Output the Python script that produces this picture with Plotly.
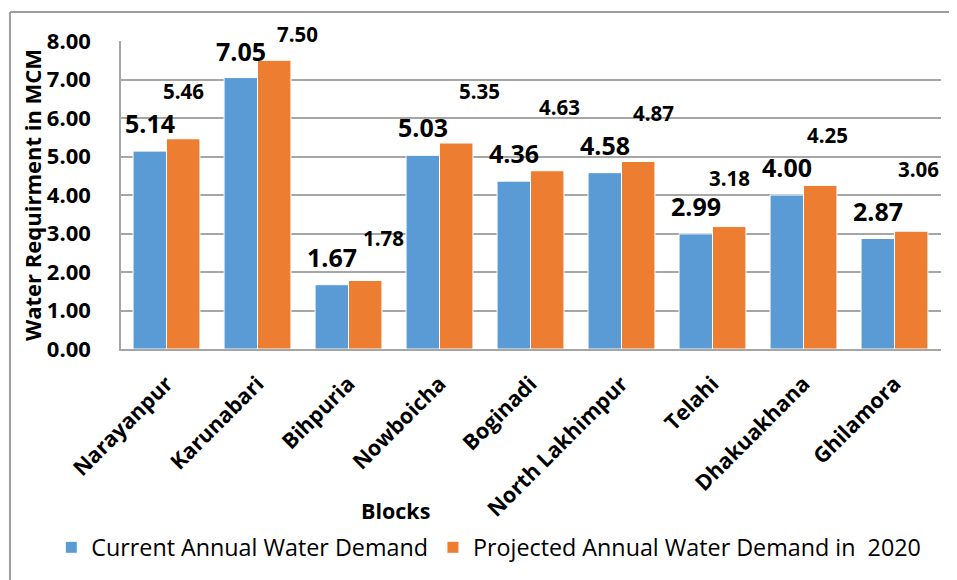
import plotly.graph_objects as go

# data
blocks = ["Narayanpur", "Karunabari", "Bihpuria", "Nowboicha", "Boginadi",
          "North Lakhimpur", "Telahi", "Dhakuakhana", "Ghilamora"]
current_demand = [5.14, 7.05, 1.67, 5.03, 4.36, 4.58, 2.99, 4.00, 2.87]
projected_demand = [5.46, 7.50, 1.78, 5.35, 4.63, 4.87, 3.18, 4.25, 3.06]

# label placement (pixel nudges) – the source chart had hand-moved labels
current_label_shift = [(-17, 28), (-17, 27), (-17, 28), (-17, 28), (-17, 28),
                       (-17, 28), (-17, 28), (-17, 28), (-17, 28)]
projected_label_shift = [(17, 48), (40, 26), (35, 42), (40, 52), (29, 64),
                         (32, 49), (17, 49), (24, 50), (24, 62)]

BLUE = "#5B9BD5"
ORANGE = "#ED7D31"
FONT = "Open Sans, Lato, sans-serif"

fig = go.Figure()
fig.add_trace(go.Bar(
    x=blocks, y=current_demand, name="Current Annual Water Demand",
    marker=dict(color=BLUE, line=dict(color="white", width=1)),
))
fig.add_trace(go.Bar(
    x=blocks, y=projected_demand, name="Projected Annual Water Demand in  2020",
    marker=dict(color=ORANGE, line=dict(color="white", width=1)),
))

annotations = []
for b, v, (dx, dy) in zip(blocks, current_demand, current_label_shift):
    annotations.append(dict(
        x=b, y=v, xref="x", yref="y", text=f"{v:.2f}", showarrow=False,
        xshift=dx, yshift=dy, yanchor="middle", xanchor="center",
        font=dict(family=FONT, size=25, color="black", weight="bold"),
    ))
for b, v, (dx, dy) in zip(blocks, projected_demand, projected_label_shift):
    annotations.append(dict(
        x=b, y=v, xref="x", yref="y", text=f"{v:.2f}", showarrow=False,
        xshift=dx, yshift=dy, yanchor="middle", xanchor="center",
        font=dict(family=FONT, size=20.5, color="black", weight="bold"),
    ))

# axis titles as free annotations (the source has them off-centre)
annotations.append(dict(
    x=0.335, y=-0.523, xref="paper", yref="paper", text="Blocks",
    xanchor="center", yanchor="middle", showarrow=False,
    font=dict(family=FONT, size=21.5, color="black", weight="bold"),
))
annotations.append(dict(
    x=-0.1085, y=0.5, xref="paper", yref="paper", text="Water Requirment in MCM",
    xanchor="center", yanchor="middle", showarrow=False, textangle=-90,
    font=dict(family=FONT, size=22, color="black", weight="bold"),
))

# outer chart frame (left and top edges visible in the reference)
frame = dict(color="#9d9d9d", width=2)
shapes = [
    dict(type="line", xref="paper", yref="paper", x0=-0.1354, x1=-0.1354,
         y0=-0.80, y1=1.094, line=frame, layer="above"),
    dict(type="line", xref="paper", yref="paper", x0=-0.1354, x1=1.03,
         y0=1.094, y1=1.094, line=frame, layer="above"),
]

# the page body adds an 8px offset, so margins are trimmed by that amount
fig.update_layout(
    width=949, height=572,
    margin=dict(l=113, r=16, t=33, b=231, autoexpand=False),
    paper_bgcolor="white", plot_bgcolor="white",
    barmode="group", bargap=0.265, bargroupgap=0,
    font=dict(family=FONT, color="black"),
    showlegend=True,
    legend=dict(
        orientation="h", x=-0.085, xanchor="left", y=-0.645, yanchor="middle",
        font=dict(family=FONT, size=23.3, color="black"),
        itemwidth=30, traceorder="normal",
    ),
    annotations=annotations,
    shapes=shapes,
)

fig.update_yaxes(
    range=[0, 8], dtick=1, tickformat=".2f", automargin=False,
    showgrid=True, gridcolor="#a6a6a6", gridwidth=1.5,
    showline=True, linecolor="#a6a6a6", linewidth=1.5,
    ticks="", ticklabelstandoff=24, zeroline=False,
    tickfont=dict(family=FONT, size=22, color="black", weight="bold"),
)
fig.update_xaxes(
    showline=True, linecolor="#a6a6a6", linewidth=1.5, automargin=False,
    tickangle=-45, ticks="", ticklabelstandoff=12,
    tickfont=dict(family=FONT, size=21.5, color="black", weight="bold"),
)

fig.write_html("out.html")
